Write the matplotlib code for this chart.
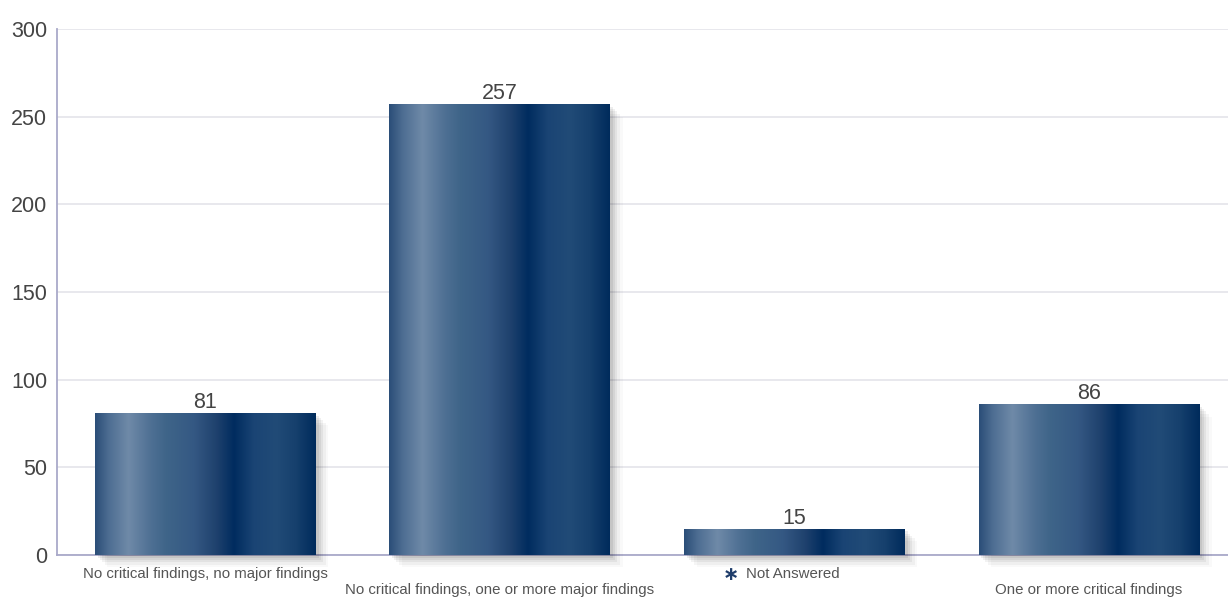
import numpy as np
import matplotlib.pyplot as plt
from matplotlib.colors import LinearSegmentedColormap
from matplotlib import patheffects as pe

plt.rcParams['font.family'] = ['Liberation Sans', 'DejaVu Sans']

categories = ['No critical findings, no major findings',
              'No critical findings, one or more major findings',
              'Not Answered',
              'One or more critical findings']
counts = [81, 257, 15, 86]
y_ticks = [0, 50, 100, 150, 200, 250, 300]

# horizontal shading across each bar, left to right
bar_cmap = LinearSegmentedColormap.from_list('bar', [
    (0.00, '#2b4e78'), (0.06, '#4d6d92'), (0.15, '#6f8aa8'), (0.25, '#4f7094'),
    (0.32, '#3f6589'), (0.45, '#345883'), (0.55, '#1f416d'), (0.63, '#002c5f'),
    (0.72, '#1a4474'), (0.82, '#214b77'), (0.91, '#16406d'), (1.00, '#002b5c')])

fig = plt.figure(figsize=(12.28, 5.97), dpi=100)
ax = fig.add_axes([0.0464, 0.0704, 0.9536, 0.881])

x = np.arange(len(categories))
width = 0.75

# soft drop shadow, right and below
shadow = [pe.SimplePatchShadow(offset=(o, -o), shadow_rgbFace='#000000', alpha=a)
          for o, a in [(9, 0.025), (7, 0.04), (5, 0.05), (3.5, 0.06), (2, 0.07)]]
bars = ax.bar(x, counts, width=width, color='#1f416d', zorder=3, clip_on=False,
              path_effects=shadow + [pe.Normal()])

grad = np.linspace(0, 1, 256).reshape(1, -1)
for b in bars:
    x0, y0 = b.get_x(), b.get_y()
    im = ax.imshow(grad, cmap=bar_cmap, aspect='auto', zorder=4,
                   extent=[x0, x0 + b.get_width(), y0, y0 + b.get_height()])
    im.set_clip_path(b)

for xi, c in zip(x, counts):
    ax.annotate(str(c), (xi, c), xytext=(0, 0), textcoords='offset points',
                ha='center', va='bottom', fontsize=15.5, color='#444444', zorder=5)

ax.set_xlim(-0.504, 3.472)
ax.set_ylim(0, 300)
ax.set_yticks(y_ticks)
ax.tick_params(axis='y', length=0, pad=7, labelsize=15.5, labelcolor='#444444')
ax.tick_params(axis='x', length=0)
ax.set_xticks([])
ax.grid(axis='y', color='#e4e4ea', linewidth=1.2, zorder=0)
ax.set_axisbelow(True)

for s in ['top', 'right']:
    ax.spines[s].set_visible(False)
ax.spines['left'].set_color('#a9a9c9')
ax.spines['bottom'].set_color('#a9a9c9')
ax.spines['left'].set_linewidth(1.3)
ax.spines['bottom'].set_linewidth(1.3)
ax.spines['bottom'].set_zorder(2)

# staggered category labels
for xi, name in zip(x, categories):
    drop = 14 if xi % 2 == 0 else 25.5
    if name == 'Not Answered':
        ax.annotate(name, (xi, 0), xytext=(-35, -drop), textcoords='offset points',
                    ha='left', va='center', fontsize=10.8, color='#555555',
                    annotation_clip=False)
        ax.annotate('\u2217', (xi, 0), xytext=(-40, -drop), textcoords='offset points',
                    ha='right', va='center', fontsize=14, color='#1f3d6b',
                    fontweight='bold', family='DejaVu Sans', annotation_clip=False)
    else:
        ax.annotate(name, (xi, 0), xytext=(0, -drop), textcoords='offset points',
                    ha='center', va='center', fontsize=10.8, color='#555555',
                    annotation_clip=False)

fig.savefig('out.png', dpi=100)
